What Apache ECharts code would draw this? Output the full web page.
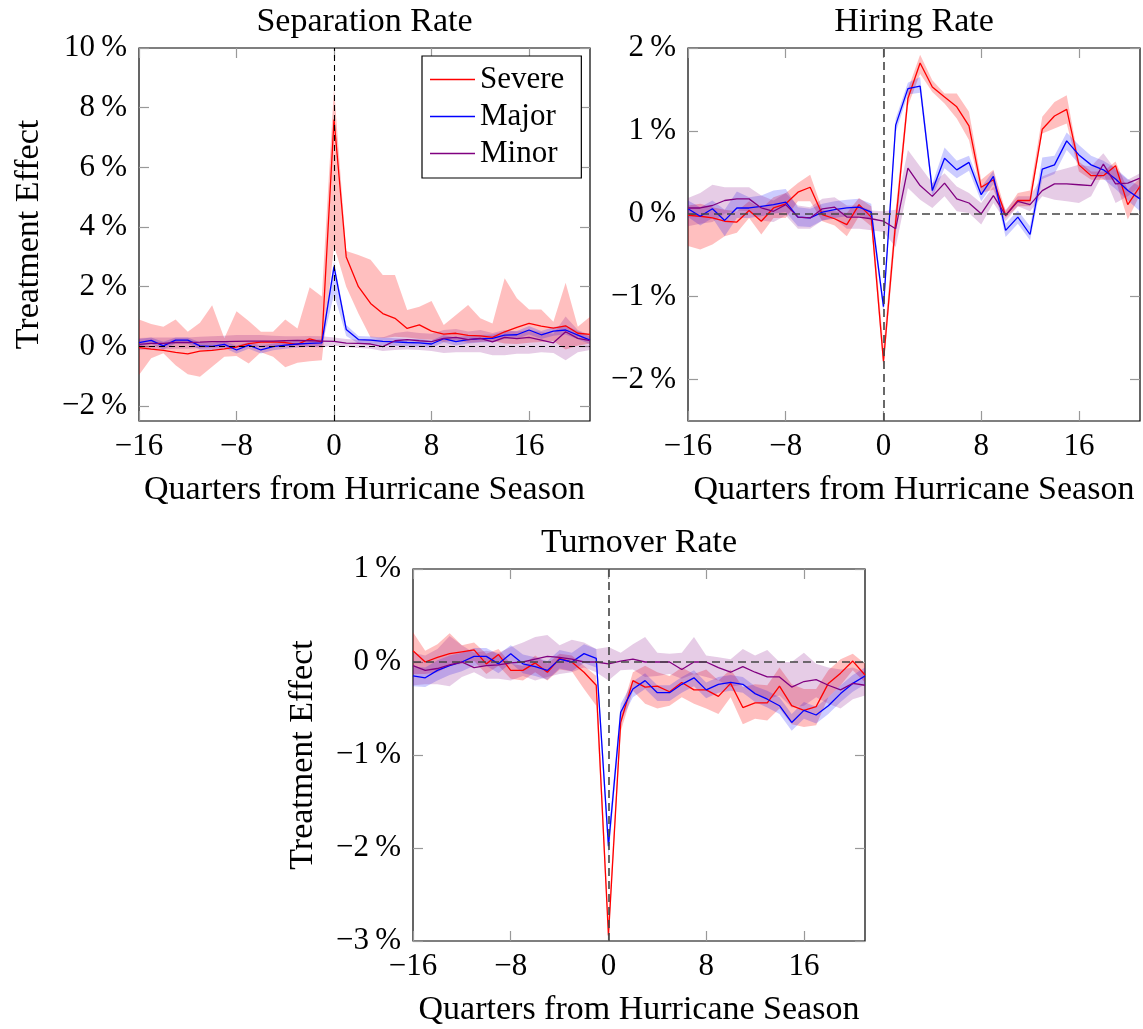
<!DOCTYPE html>
<html>
<head>
<meta charset="utf-8">
<title>Treatment effects by hurricane severity</title>
<script src="https://cdn.jsdelivr.net/npm/echarts@6.0.0/dist/echarts.min.js"></script>
<style>
  html, body { margin: 0; padding: 0; background: #fff; }
  #chart { width: 1143px; height: 1029px; }
</style>
</head>
<body>
<div id="chart"></div>
<script>
// quarters relative to the hurricane season
const quarters = [-16,-15,-14,-13,-12,-11,-10,-9,-8,-7,-6,-5,-4,-3,-2,-1,0,1,2,3,4,5,6,7,8,9,10,11,12,13,14,15,16,17,18,19,20,21];
const xTicks = [-16, -8, 0, 8, 16];

// Separation rate (%)
const sepSevere   = [-0.04,-0.09,-0.13,-0.2,-0.25,-0.16,-0.13,-0.08,-0.02,0.09,0.14,0.15,0.13,0.07,0.25,0.14, 7.6, 3.0,2.0,1.44,1.1,0.94,0.6,0.72,0.51,0.41,0.44,0.37,0.35,0.3,0.49,0.64,0.77,0.68,0.61,0.69,0.44,0.4];
const sepSevereHi = [0.9,0.75,0.66,0.9,0.49,0.79,1.38,0.27,1.18,0.85,0.49,0.49,0.9,0.6,1.98,1.67, 8.65, 3.2,3.06,2.9,2.39,2.39,1.22,1.33,1.52,0.72,1.05,1.39,0.94,0.77,2.28,1.61,1.24,1.24,0.83,2.13,0.66,0.99];
const sepSevereLo = [-0.96,-0.4,-0.23,-0.63,-0.93,-1.02,-0.68,-0.35,-0.32,-0.57,-0.2,-0.35,-0.7,-0.55,-0.5,-0.46, 3.38, 2.0,1.1,0.3,0.28,0.32,0.3,0.25,0.22,0.15,0.2,0.12,0.15,0.18,0.1,0.08,0.12,0.15,0.18,-0.1,0.02,0.1];
const sepMajor    = [0.13,0.2,0.02,0.21,0.21,0.02,0,0.07,-0.12,0.04,-0.12,-0.01,0.04,0.08,0.1,0.12, 2.67, 0.57,0.23,0.21,0.17,0.15,0.13,0.12,0.08,0.26,0.16,0.23,0.26,0.27,0.38,0.39,0.55,0.39,0.51,0.55,0.38,0.21];
const sepMajorHi  = [0.25,0.3,0.16,0.3,0.3,0.14,0.12,0.18,0.02,0.15,0.02,0.1,0.15,0.2,0.22,0.24, 2.85, 0.72,0.35,0.33,0.3,0.27,0.25,0.25,0.2,0.38,0.3,0.36,0.38,0.4,0.5,0.52,0.68,0.52,0.65,0.7,0.52,0.33];
const sepMajorLo  = [0.0,0.08,-0.1,0.1,0.1,-0.1,-0.12,-0.05,-0.24,-0.08,-0.24,-0.13,-0.08,-0.04,-0.02,0.0, 1.75, 0.35,0.1,0.08,0.04,0.02,0.0,-0.01,-0.04,0.13,0.03,0.1,0.13,0.14,0.25,0.26,0.4,0.25,0.36,0.4,0.24,0.08];
const sepMinor    = [0.07,0.1,0.1,0.13,0.13,0.14,0.16,0.16,0.17,0.18,0.18,0.18,0.19,0.2,0.19,0.18, 0.17, 0.11,0.1,0.08,-0.01,0.19,0.23,0.19,0.16,0.27,0.3,0.23,0.27,0.15,0.3,0.26,0.3,0.21,0.12,0.49,0.27,0.19];
const sepMinorHi  = [0.28,0.3,0.3,0.3,0.3,0.32,0.34,0.36,0.38,0.38,0.38,0.36,0.34,0.34,0.35,0.34, 0.3, 0.25,0.22,0.25,0.3,0.45,0.5,0.45,0.42,0.55,0.58,0.5,0.55,0.45,0.55,0.5,0.55,0.48,0.42,1.0,0.55,0.38];
const sepMinorLo  = [-0.12,-0.1,-0.1,-0.08,-0.08,-0.06,-0.04,-0.04,-0.04,-0.02,-0.02,-0.02,0.0,0.0,-0.02,-0.04, 0.02, -0.02,-0.05,-0.08,-0.15,-0.12,-0.1,-0.12,-0.15,-0.22,-0.2,-0.2,-0.2,-0.3,-0.3,-0.25,-0.25,-0.2,-0.22,-0.46,-0.2,-0.12];

// Hiring rate (%)
const hirSevere   = [-0.02,-0.03,-0.05,-0.09,-0.1,0.04,-0.09,0.07,0.12,0.26,0.32,-0.01,-0.06,-0.13,0.11,-0.04, -1.78, -0.1,1.39,1.82,1.53,1.41,1.29,1.06,0.32,0.41,-0.02,0.16,0.16,1.02,1.18,1.26,0.59,0.46,0.46,0.58,0.11,0.33];
const hirSevereHi = [0.1,0.12,0.08,0.05,0.03,0.15,0.06,0.2,0.25,0.37,0.47,0.05,0.03,0.01,0.19,0.09, -1.6, 0.05,1.5,1.92,1.61,1.45,1.45,1.23,0.41,0.53,0.03,0.25,0.28,1.17,1.35,1.43,0.63,0.51,0.51,0.63,0.29,0.43];
const hirSevereLo = [-0.39,-0.43,-0.37,-0.27,-0.23,-0.05,-0.25,-0.05,-0.05,0.15,0.15,-0.09,-0.14,-0.27,-0.03,-0.15, -1.88, -0.25,1.3,1.69,1.47,1.33,1.15,0.89,0.25,0.29,-0.05,0.09,0.09,0.97,1.03,1.09,0.51,0.41,0.41,0.41,-0.07,0.23];
const hirMajor    = [0.06,-0.03,0.06,-0.08,0.07,0.07,0.09,0.11,0.14,-0.04,-0.05,0.02,0.05,0.07,0.08,0.02, -1.12, 1.07,1.51,1.54,0.28,0.67,0.53,0.62,0.23,0.45,-0.2,-0.04,-0.25,0.54,0.59,0.88,0.71,0.59,0.53,0.42,0.28,0.18];
const hirMajorHi  = [0.16,0.08,0.16,0.05,0.27,0.2,0.22,0.28,0.3,0.08,0.06,0.12,0.15,0.17,0.18,0.12, -1.05, 1.15,1.58,1.65,0.36,0.8,0.64,0.7,0.32,0.52,-0.12,0.04,-0.15,0.68,0.7,0.98,0.83,0.7,0.64,0.55,0.42,0.33];
const hirMajorLo  = [-0.04,-0.14,-0.05,-0.27,-0.05,-0.05,-0.03,0.0,0.02,-0.15,-0.16,-0.08,-0.05,-0.03,-0.02,-0.06, -1.2, 0.98,1.44,1.46,0.2,0.55,0.43,0.52,0.15,0.36,-0.28,-0.12,-0.32,0.42,0.48,0.77,0.6,0.48,0.42,0.3,0.16,0.03];
const hirMinor    = [0.07,0.07,0.1,0.16,0.18,0.18,0.07,0.03,0.11,-0.04,-0.05,0.06,0.08,-0.04,-0.04,-0.06, -0.09, -0.18,0.55,0.34,0.21,0.37,0.18,0.13,0.0,0.22,-0.02,0.15,0.11,0.28,0.36,0.36,0.35,0.34,0.6,0.36,0.37,0.43];
const hirMinorHi  = [0.19,0.25,0.35,0.32,0.32,0.32,0.22,0.16,0.25,0.1,0.08,0.18,0.2,0.1,0.1,0.04, 0.03, 0.05,0.77,0.57,0.37,0.49,0.33,0.25,0.13,0.33,0.05,0.21,0.21,0.45,0.51,0.55,0.59,0.57,0.73,0.53,0.41,0.49];
const hirMinorLo  = [-0.15,-0.12,-0.1,0.0,0.04,0.03,-0.08,-0.1,-0.02,-0.18,-0.18,-0.08,-0.06,-0.18,-0.18,-0.2, -0.22, -0.4,0.31,0.17,0.07,0.21,0.03,0.01,-0.13,0.13,-0.09,0.09,0.03,0.21,0.17,0.15,0.13,0.21,0.49,0.13,0.21,0.33];

// Turnover rate (%)
const turSevere   = [0.12,0,0.05,0.09,0.11,0.13,-0.02,0.08,-0.09,-0.09,-0.01,-0.11,0.04,0,-0.11,-0.25, -2.94, -0.65,-0.2,-0.27,-0.26,-0.32,-0.22,-0.3,-0.3,-0.37,-0.23,-0.49,-0.44,-0.44,-0.26,-0.47,-0.52,-0.48,-0.23,-0.12,0.01,-0.14];
const turSevereHi = [0.32,0.12,0.19,0.31,0.18,0.21,0.09,0.14,-0.02,-0.04,0.07,-0.02,0.09,0.07,-0.04,-0.15, -2.75, -0.55,-0.11,-0.04,-0.11,-0.15,-0.06,-0.13,-0.08,-0.2,-0.08,-0.27,-0.24,-0.25,-0.06,-0.24,-0.29,-0.29,-0.09,0.03,0.09,-0.02];
const turSevereLo = [-0.13,-0.13,-0.11,-0.04,-0.02,0.01,-0.13,-0.04,-0.18,-0.2,-0.11,-0.2,-0.08,-0.1,-0.29,-0.47, -3.0, -0.75,-0.31,-0.45,-0.5,-0.47,-0.38,-0.45,-0.5,-0.56,-0.38,-0.67,-0.61,-0.63,-0.5,-0.67,-0.7,-0.68,-0.38,-0.25,-0.09,-0.22];
const turMajor    = [-0.15,-0.17,-0.09,-0.04,0,0.06,0.06,-0.02,0.09,-0.02,-0.05,-0.09,0.03,0,0.09,0.04, -1.98, -0.54,-0.29,-0.2,-0.33,-0.33,-0.24,-0.17,-0.3,-0.24,-0.22,-0.24,-0.34,-0.4,-0.47,-0.65,-0.52,-0.57,-0.47,-0.34,-0.23,-0.15];
const turMajorHi  = [-0.05,-0.06,0.02,0.07,0.1,0.15,0.15,0.08,0.18,0.08,0.05,0.01,0.13,0.1,0.19,0.14, -1.85, -0.45,-0.21,-0.12,-0.25,-0.25,-0.16,-0.09,-0.22,-0.16,-0.14,-0.16,-0.26,-0.31,-0.38,-0.56,-0.43,-0.48,-0.38,-0.25,-0.14,-0.06];
const turMajorLo  = [-0.26,-0.27,-0.2,-0.14,-0.1,-0.04,-0.04,-0.12,-0.01,-0.12,-0.15,-0.19,-0.07,-0.1,-0.01,-0.06, -2.1, -0.64,-0.38,-0.29,-0.42,-0.42,-0.33,-0.26,-0.39,-0.33,-0.31,-0.33,-0.43,-0.49,-0.56,-0.74,-0.61,-0.66,-0.56,-0.43,-0.32,-0.24];
const turMinor    = [-0.04,-0.09,-0.07,-0.03,0,-0.06,-0.04,-0.03,-0.01,0,0.03,0.06,0.05,0.03,0,0, -0.02, 0.01,0.03,0,0,0,-0.08,0,0,-0.06,-0.11,-0.05,-0.11,-0.16,-0.16,-0.27,-0.21,-0.19,-0.25,-0.3,-0.23,-0.25];
const turMinorHi  = [0.1,0.07,0.14,0.28,0.18,0.1,0.12,0.1,0.16,0.21,0.27,0.29,0.18,0.24,0.21,0.14, 0.16, 0.1,0.19,0.27,0.1,0.09,0.1,0.27,0.07,0.05,0.03,0.14,0.07,0.13,0,0,0.1,-0.02,-0.06,-0.08,-0.06,-0.11];
const turMinorLo  = [-0.25,-0.24,-0.24,-0.26,-0.16,-0.11,-0.18,-0.18,-0.2,-0.15,-0.2,-0.16,-0.13,-0.11,-0.06,-0.11, -0.2, -0.09,-0.08,-0.16,-0.15,-0.13,-0.18,-0.13,-0.16,-0.2,-0.27,-0.24,-0.33,-0.4,-0.36,-0.49,-0.47,-0.38,-0.45,-0.5,-0.4,-0.36];

const sepTicks = [-2, 0, 2, 4, 6, 8, 10];
const hirTicks = [-2, -1, 0, 1, 2];
const turTicks = [-3, -2, -1, 0, 1];

const font = 'Liberation Serif';
const fs = 31;      // tick labels, legend
const fsName = 34;  // titles, axis names
const colors = { Severe: '#ff0000', Major: '#0000ff', Minor: '#800080' };
const bands = { Severe: 'rgba(255,0,0,0.25)', Major: 'rgba(0,0,255,0.2)', Minor: 'rgba(128,0,128,0.2)' };

const panels = [
  { title: 'Separation Rate', yName: 'Treatment Effect', min: -2.5, max: 10, ticks: sepTicks,
    grid: { left: 139, top: 48, width: 451, height: 373 },
    dash: { color: '#000', type: [6, 4], width: 1.1 },
    data: { Severe: [sepSevere, sepSevereLo, sepSevereHi], Major: [sepMajor, sepMajorLo, sepMajorHi], Minor: [sepMinor, sepMinorLo, sepMinorHi] } },
  { title: 'Hiring Rate', yName: '', min: -2.5, max: 2, ticks: hirTicks,
    grid: { left: 688, top: 48, width: 452, height: 373 },
    dash: { color: '#444', type: [8, 5], width: 1.6 },
    data: { Severe: [hirSevere, hirSevereLo, hirSevereHi], Major: [hirMajor, hirMajorLo, hirMajorHi], Minor: [hirMinor, hirMinorLo, hirMinorHi] } },
  { title: 'Turnover Rate', yName: 'Treatment Effect', min: -3, max: 1, ticks: turTicks,
    grid: { left: 413, top: 569, width: 452, height: 372 },
    dash: { color: '#444', type: [8, 5], width: 1.6 },
    data: { Severe: [turSevere, turSevereLo, turSevereHi], Major: [turMajor, turMajorLo, turMajorHi], Minor: [turMinor, turMinorLo, turMinorHi] } }
];

const minus = v => (v < 0 ? '\u2212' : '') + Math.abs(v);
const pct = v => minus(v) + '\u2009%';
const pairs = arr => quarters.map((q, i) => [q, arr[i]]);
const txt = { fontFamily: font, fontSize: fs, color: '#000' };
const nameTxt = { fontFamily: font, fontSize: fsName, color: '#000' };
const tick = { show: true, inside: true, length: 10, lineStyle: { color: '#999', width: 1.2 } };
const noLine = { show: false, onZero: false };

// one polygon per band: lower edge left->right, upper edge right->left
function bandSeries(ax, lo, hi, color) {
  return {
    type: 'custom', xAxisIndex: ax, yAxisIndex: ax, silent: true, clip: true, z: 1,
    data: quarters.map((q, i) => [q, lo[i], hi[i]]),
    encode: { x: 0, y: [1, 2] },
    renderItem: (params, api) => {
      if (params.dataIndex !== 0) return null;
      const pts = [];
      quarters.forEach((q, i) => pts.push(api.coord([q, lo[i]])));
      for (let i = quarters.length - 1; i >= 0; i--) pts.push(api.coord([quarters[i], hi[i]]));
      return { type: 'polygon', shape: { points: pts }, style: { fill: color } };
    }
  };
}

const grid = [], xAxis = [], yAxis = [], series = [];
panels.forEach((p, k) => {
  grid.push(Object.assign({ show: true, borderColor: '#000', borderWidth: 1.2, backgroundColor: 'transparent' }, p.grid));
  const ax = 2 * k;
  xAxis.push({
    gridIndex: k, type: 'value', min: -16, max: 21, position: 'bottom',
    axisLine: noLine, splitLine: { show: false },
    axisTick: Object.assign({ customValues: xTicks }, tick),
    axisLabel: Object.assign({ customValues: xTicks, formatter: minus, margin: 10 }, txt),
    name: 'Quarters from Hurricane Season', nameLocation: 'middle', nameGap: 52, nameTextStyle: nameTxt
  });
  xAxis.push({
    gridIndex: k, type: 'value', min: -16, max: 21, position: 'top',
    axisLine: noLine, splitLine: { show: false },
    axisTick: Object.assign({ customValues: xTicks }, tick),
    axisLabel: { show: false },
    name: p.title, nameLocation: 'middle', nameGap: 9, nameTextStyle: nameTxt
  });
  yAxis.push({
    gridIndex: k, type: 'value', min: p.min, max: p.max, position: 'left',
    axisLine: noLine, splitLine: { show: false },
    axisTick: Object.assign({ customValues: p.ticks }, tick),
    axisLabel: Object.assign({ customValues: p.ticks, formatter: pct, margin: 12 }, txt),
    name: p.yName, nameLocation: 'middle', nameRotate: 90, nameGap: 93, nameTextStyle: nameTxt
  });
  yAxis.push({
    gridIndex: k, type: 'value', min: p.min, max: p.max, position: 'right',
    axisLine: noLine, splitLine: { show: false },
    axisTick: Object.assign({ customValues: p.ticks }, tick),
    axisLabel: { show: false }
  });

  // confidence bands first, then the point estimates
  ['Severe', 'Major', 'Minor'].forEach(name => {
    const [, lo, hi] = p.data[name];
    series.push(bandSeries(ax, lo, hi, bands[name]));
  });
  ['Severe', 'Major', 'Minor'].forEach(name => {
    const s = {
      type: 'line', name, xAxisIndex: ax, yAxisIndex: ax, data: pairs(p.data[name][0]),
      symbol: 'none', lineStyle: { color: colors[name], width: 1.3 }, itemStyle: { color: colors[name] }, z: 3
    };
    if (name === 'Minor') {
      s.markLine = {
        silent: true, symbol: ['none', 'none'], label: { show: false },
        lineStyle: p.dash,
        data: [{ yAxis: 0 }, { xAxis: 0 }]
      };
    }
    series.push(s);
  });
});

const chart = echarts.init(document.getElementById('chart'));
chart.setOption({
  animation: false,
  backgroundColor: '#fff',
  grid, xAxis, yAxis, series,
  legend: {
    data: ['Severe', 'Major', 'Minor'], orient: 'vertical', left: 422, top: 56,
    icon: 'rect', itemWidth: 45, itemHeight: 1.5, itemGap: 0, padding: [5, 17, 6, 8],
    borderColor: '#000', borderWidth: 1.2, backgroundColor: '#fff', selectedMode: false,
    textStyle: { fontFamily: font, fontSize: fs, color: '#000', lineHeight: 37 }
  }
});
</script>
</body>
</html>
